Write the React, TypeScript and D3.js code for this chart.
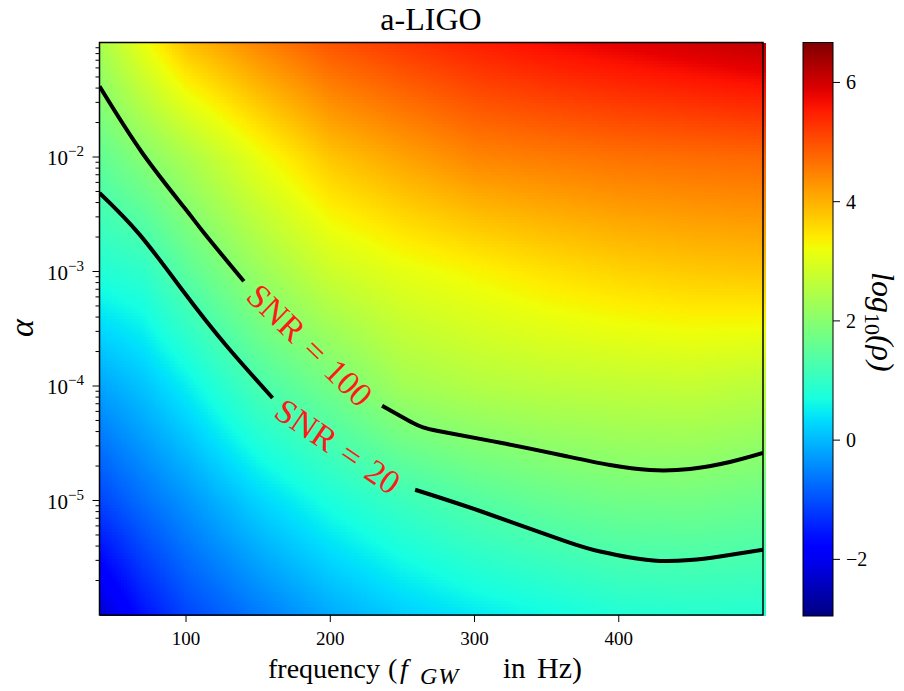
import { useMemo } from 'react';
import * as d3 from 'd3';

// field samples: log10(rho) on a frequency x log10(alpha) grid
const freqs = [40, 70, 100, 150, 200, 250, 300, 350, 400, 450, 500];
const logAlphaRows = [-1, -2, -3, -4, -5, -6];
const rhoAlphaM1 = [2.4, 3.15, 3.85, 4.45, 4.95, 5.25, 5.5, 5.7, 5.85, 6.0, 6.15];
const rhoAlphaM2 = [1.55, 1.98, 2.4, 3.15, 3.8, 4.15, 4.45, 4.55, 4.65, 4.7, 4.75];
const rhoAlphaM3 = [0.8, 0.95, 1.47, 2.2, 2.8, 3.1, 3.3, 3.5, 3.65, 3.75, 3.8];
const rhoAlphaM4 = [-0.2, 0.1, 0.5, 1.26, 1.75, 2.3, 2.5, 2.6, 2.66, 2.7, 2.6];
const rhoAlphaM5 = [-1.1, -0.7, -0.35, 0.26, 0.73, 1.1, 1.39, 1.6, 1.73, 1.75, 1.66];
const rhoAlphaM6 = [-2.3, -1.6, -1.1, -0.6, -0.15, 0.2, 0.45, 0.62, 0.8, 0.85, 0.85];
const rhoRows = [rhoAlphaM1, rhoAlphaM2, rhoAlphaM3, rhoAlphaM4, rhoAlphaM5, rhoAlphaM6];

// contour lines, [frequency, log10(alpha)], split where the inline label sits
const snr100Left = [[40, -1.383], [69.7, -1.965], [99.3, -2.45], [112.5, -2.664], [140.1, -3.086]];
const snr100Right = [[235.9, -4.172], [257.4, -4.323], [274.8, -4.393], [319, -4.498], [362.9, -4.611], [393.9, -4.69], [421.6, -4.734], [449.3, -4.725], [477, -4.664], [500, -4.585]];
const snr20Left = [[40, -2.314], [68, -2.68], [99, -3.188], [128.3, -3.653], [160, -4.105]];
const snr20Right = [[258.8, -4.906], [304.3, -5.094], [362.8, -5.354], [387.1, -5.445], [407.9, -5.498], [428.6, -5.528], [449.3, -5.52], [470.1, -5.489], [500, -5.43]];

const xTicks = [100, 200, 300, 400];
const yMajorExps = [-2, -3, -4, -5];
const cbTicks = [-2, 0, 2, 4, 6];

const W = 904;
const H = 691;
const L = 99.5, R = 763, T = 42.5, B = 615;
const CBX0 = 803, CBX1 = 833, CBT = 42.5, CBB = 616;
const FONT = "'Liberation Serif', 'DejaVu Serif', serif";

// matplotlib jet
const jetR = d3.scaleLinear([0, 0.35, 0.66, 0.89, 1], [0, 0, 1, 1, 0.5]).clamp(true);
const jetG = d3.scaleLinear([0, 0.125, 0.375, 0.64, 0.91, 1], [0, 0, 1, 1, 0, 0]).clamp(true);
const jetB = d3.scaleLinear([0, 0.11, 0.34, 0.65, 1], [0.5, 1, 1, 0, 0]).clamp(true);
const jet = (t: number) => d3.rgb(jetR(t) * 255, jetG(t) * 255, jetB(t) * 255).formatHex();

const vMin = -2.95, vMax = 6.67;
const norm = d3.scaleLinear([vMin, vMax], [0, 1]).clamp(true);

function fieldAt(f: number, la: number) {
  let i = d3.bisectRight(freqs, f) - 1;
  i = Math.max(0, Math.min(freqs.length - 2, i));
  const tx = Math.max(0, Math.min(1, (f - freqs[i]) / (freqs[i + 1] - freqs[i])));
  let r = Math.floor(logAlphaRows[0] - la);
  r = Math.max(0, Math.min(logAlphaRows.length - 2, r));
  const ty = Math.max(0, Math.min(1, (logAlphaRows[r] - la) / (logAlphaRows[r] - logAlphaRows[r + 1])));
  const a = rhoRows[r][i], b = rhoRows[r][i + 1];
  const c = rhoRows[r + 1][i], d = rhoRows[r + 1][i + 1];
  return (a * (1 - tx) + b * tx) * (1 - ty) + (c * (1 - tx) + d * tx) * ty;
}

const App = () => {
  const x = d3.scaleLinear([40, 500], [L, R]);
  const y = d3.scaleLog([1e-6, 1e-1], [B, T]);
  const cb = d3.scaleLinear([vMin, vMax], [CBB, CBT]);

  const cells = useMemo(() => {
    const out: { x: number; y: number; c: string }[] = [];
    const step = 3;
    for (let px = L; px < R; px += step) {
      const f = x.invert(px + step / 2);
      for (let py = T; py < B; py += step) {
        const la = Math.log10(y.invert(py + step / 2));
        out.push({ x: px, y: py, c: jet(norm(fieldAt(f, la))) });
      }
    }
    return out;
  }, []);

  const line = d3.line<number[]>()
    .x(d => x(d[0]))
    .y(d => y(Math.pow(10, d[1])))
    .curve(d3.curveNatural);

  const minorTicks: number[] = [];
  for (let e = -6; e <= -2; e++) {
    for (let k = 2; k <= 9; k++) minorTicks.push(k * Math.pow(10, e));
  }

  const cbStops = d3.range(0, 1.0001, 0.02);

  return (
    <svg width={W} height={H}
      style={{ position: 'absolute', left: 0, top: 0, background: '#fff', fontFamily: FONT }}>
      <defs>
        <clipPath id="plotClip">
          <rect x={L} y={T} width={R - L} height={B - T} />
        </clipPath>
        <linearGradient id="cbGrad" x1="0" y1="1" x2="0" y2="0">
          {cbStops.map(s => <stop key={s} offset={s} stopColor={jet(s)} />)}
        </linearGradient>
      </defs>

      <text x={431} y={30} textAnchor="middle" fontSize={32}>a-LIGO</text>

      <g shapeRendering="crispEdges">
        {cells.map((d, i) => (
          <rect key={i} x={d.x} y={d.y} width={3.4} height={3.4} fill={d.c} />
        ))}
      </g>

      <g clipPath="url(#plotClip)" fill="none" stroke="#000" strokeWidth={4} strokeLinecap="butt">
        <path d={line(snr100Left) || ''} />
        <path d={line(snr100Right) || ''} />
        <path d={line(snr20Left) || ''} />
        <path d={line(snr20Right) || ''} />
      </g>

      <text transform="translate(310,345) rotate(44)" textAnchor="middle" dy="0.35em"
        fontSize={34} fill="#ff1a1a" wordSpacing={3}>SNR = 100</text>
      <text transform="translate(338,446) rotate(34)" textAnchor="middle" dy="0.35em"
        fontSize={34} fill="#ff1a1a" wordSpacing={3}>SNR = 20</text>

      <rect x={L} y={T} width={R - L} height={B - T} fill="none" stroke="#000" strokeWidth={1.5} />

      {xTicks.map(t => (
        <g key={t}>
          <line x1={x(t)} x2={x(t)} y1={B} y2={B + 7} stroke="#000" strokeWidth={1} />
          <text x={x(t)} y={645} textAnchor="middle" fontSize={19}>{t}</text>
        </g>
      ))}

      {minorTicks.filter(v => y(v) > T + 0.5 && y(v) < B - 0.5).map(v => (
        <line key={v} x1={L - 4} x2={L} y1={y(v)} y2={y(v)} stroke="#000" strokeWidth={1} />
      ))}
      {yMajorExps.map(e => (
        <g key={e}>
          <line x1={L - 7} x2={L} y1={y(Math.pow(10, e))} y2={y(Math.pow(10, e))} stroke="#000" strokeWidth={1} />
          <text x={84} y={y(Math.pow(10, e)) + 8} textAnchor="end" fontSize={21}>
            10<tspan dy={-9} fontSize={15}>{'\u2212' + Math.abs(e)}</tspan>
          </text>
        </g>
      ))}

      <text transform="translate(33,328) rotate(-90)" textAnchor="middle" fontSize={34} fontStyle="italic">α</text>

      <text y={678} fontSize={28}>
        <tspan x={268}>frequency</tspan>
        <tspan x={388}>(</tspan>
        <tspan x={400} fontStyle="italic">f</tspan>
        <tspan x={420} dy={6} fontSize={24} fontStyle="italic" letterSpacing={1}>GW</tspan>
        <tspan x={503} dy={-6} fontSize={29}>in</tspan>
        <tspan x={537} fontSize={30}>Hz)</tspan>
      </text>

      <rect x={CBX0} y={CBT} width={CBX1 - CBX0} height={CBB - CBT} fill="url(#cbGrad)" stroke="#000" strokeWidth={1} />
      {cbTicks.map(t => (
        <g key={t}>
          <line x1={CBX1} x2={CBX1 + 7} y1={cb(t)} y2={cb(t)} stroke="#000" strokeWidth={1} />
          <text x={846} y={cb(t) + 7} fontSize={20}>{t < 0 ? '\u2212' + Math.abs(t) : t}</text>
        </g>
      ))}

      <text transform="translate(872,272) rotate(90)" fontSize={32} fontStyle="italic">
        log<tspan dy={7} fontSize={22} fontStyle="normal">10</tspan><tspan dy={-7}>(ρ)</tspan>
      </text>
    </svg>
  );
};

export default App;
